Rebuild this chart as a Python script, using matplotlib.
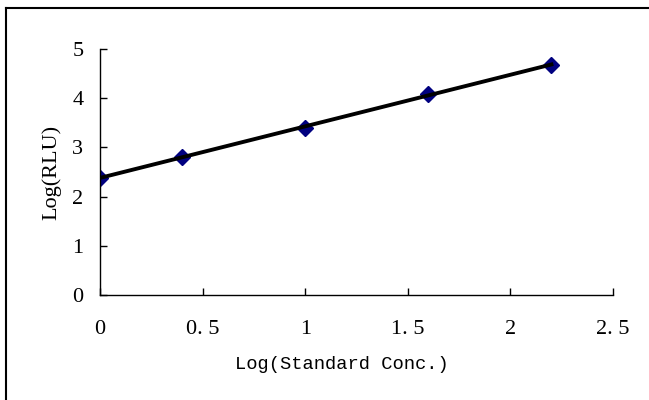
import numpy as np
import matplotlib
matplotlib.use("Agg")
import matplotlib.pyplot as plt
from matplotlib.lines import Line2D

# standard curve data
log_conc = [0.0, 0.4, 1.0, 1.6, 2.2]
log_rlu = [2.38, 2.81, 3.40, 4.08, 4.68]
x_ticks = [0, 0.5, 1, 1.5, 2, 2.5]
x_tick_labels = ["0", "0. 5", "1", "1. 5", "2", "2. 5"]
y_ticks = [0, 1, 2, 3, 4, 5]

plt.rcParams['font.family'] = ['Liberation Serif', 'DejaVu Serif']

fig = plt.figure(figsize=(6.49, 4.0), dpi=100)
ax = fig.add_axes([100 / 649, 1 - 295 / 400, 513 / 649, 246 / 400])

# linear trend line through the points
slope, intercept = np.polyfit(log_conc, log_rlu, 1)
xs = np.array([min(log_conc), max(log_conc)])
ax.plot(log_conc, log_rlu, linestyle='none', marker='D', markersize=8,
        color='#000080', zorder=2)
ax.plot(xs, slope * xs + intercept, color='black', linewidth=2.8, zorder=3)

ax.set_xlim(0, 2.5)
ax.set_ylim(0, 5)
ax.set_xticks(x_ticks)
ax.set_xticklabels(x_tick_labels)
ax.set_yticks(y_ticks)
ax.tick_params(direction='in', length=5, width=1, labelsize=16)
ax.tick_params(axis='x', pad=18)
ax.tick_params(axis='y', pad=12)
for s in ['top', 'right']:
    ax.spines[s].set_visible(False)
ax.spines['left'].set_linewidth(1)
ax.spines['bottom'].set_linewidth(1)

ax.set_xlabel('Log(Standard Conc.)', fontsize=13.5, family='Liberation Mono')
ax.xaxis.set_label_coords(0.472, -0.248)
ax.set_ylabel('Log(RLU)', fontsize=16, labelpad=8)

# outer chart border (clipped on the right and bottom)
fig.add_artist(Line2D([6 / 649, 1], [1 - 8 / 400, 1 - 8 / 400], color='black', linewidth=1.5))
fig.add_artist(Line2D([6 / 649, 6 / 649], [0, 1 - 8 / 400], color='black', linewidth=1.5))

fig.savefig('out.png', dpi=100)
